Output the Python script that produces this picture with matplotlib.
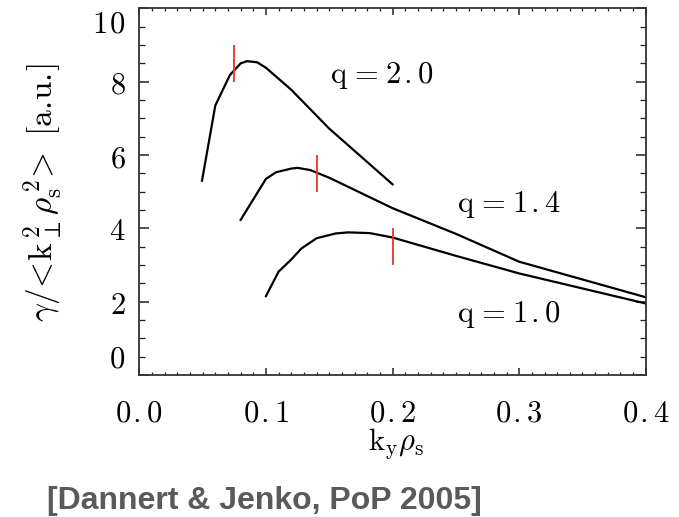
import matplotlib
matplotlib.use("Agg")
import matplotlib.pyplot as plt
from matplotlib.ticker import FixedLocator, MultipleLocator, FuncFormatter

plt.rcParams['mathtext.fontset'] = 'cm'
plt.rcParams['font.family'] = 'serif'

# growth rate curves
ky_q20 = [0.0495, 0.06, 0.0715, 0.08, 0.085, 0.093, 0.1, 0.12, 0.15, 0.2]
gam_q20 = [5.3, 7.35, 8.18, 8.5, 8.56, 8.53, 8.38, 7.78, 6.72, 5.2]

ky_q14 = [0.08, 0.1, 0.108, 0.12, 0.125, 0.135, 0.15, 0.2, 0.25, 0.3, 0.4]
gam_q14 = [4.23, 5.35, 5.53, 5.63, 5.65, 5.59, 5.38, 4.55, 3.85, 3.09, 2.12]

ky_q10 = [0.1, 0.11, 0.12, 0.128, 0.14, 0.155, 0.165, 0.182, 0.2, 0.25, 0.3, 0.4]
gam_q10 = [2.15, 2.82, 3.15, 3.45, 3.73, 3.86, 3.89, 3.87, 3.75, 3.25, 2.77, 1.95]

# red markers
mark_ky = [0.075, 0.14, 0.2]
mark_lo = [8.0, 5.0, 3.0]
mark_hi = [9.0, 6.0, 4.0]

curve_labels = ["2.0", "1.4", "1.0"]
label_pos = [(0.1506, 7.97), (0.2507, 4.45), (0.2507, 1.45)]

xticks = [0.0, 0.1, 0.2, 0.3, 0.4]
yticks = [0, 2, 4, 6, 8, 10]


def spaced(s):
    # IDL-ish wide decimal point
    return s.replace(".", r"\hspace{0.1}.")


fig = plt.figure(figsize=(6.79, 5.17), dpi=100)
ax = fig.add_axes([0.2052, 0.2747, 0.7459, 0.7091])

for k, g in [(ky_q20, gam_q20), (ky_q14, gam_q14), (ky_q10, gam_q10)]:
    ax.plot(k, g, color="black", lw=1.6, solid_joinstyle="round")
ax.vlines(mark_ky, mark_lo, mark_hi, color="#ee3322", lw=1.3)

for lab, (x, y) in zip(curve_labels, label_pos):
    ax.text(x, y, r"$\mathrm{q}\hspace{0.1}{=}\hspace{0.1}%s$" % spaced(lab),
            fontsize=22, ha="left", va="baseline")

ax.set_xlim(0, 0.4)
ax.set_ylim(0, 10)
ax.xaxis.set_major_locator(FixedLocator(xticks))
ax.xaxis.set_minor_locator(MultipleLocator(0.01))
ax.yaxis.set_major_locator(FixedLocator(yticks))
ax.yaxis.set_minor_locator(MultipleLocator(0.5))
ax.xaxis.set_major_formatter(FuncFormatter(lambda v, p: r"$%s$" % spaced("%.1f" % v)))
ax.yaxis.set_major_formatter(FuncFormatter(
    lambda v, p: r"$%s$" % r"\hspace{0.08}".join(str(int(v)))))

ax.tick_params(which="both", direction="in", top=True, right=True,
               colors="#222222", labelcolor="black", labelsize=22)
ax.tick_params(axis="x", which="major", length=5, width=1.1, pad=16)
ax.tick_params(axis="x", which="minor", length=2.5, width=0.9)
ax.tick_params(axis="y", which="major", length=7.2, width=1.1, pad=10)
ax.tick_params(axis="y", which="minor", length=4, width=0.9)
for s in ax.spines.values():
    s.set_linewidth(1.3)
    s.set_color("#333333")

# IDL-style end labels
ax.yaxis.get_major_ticks()[0].label1.set_va("bottom")
ax.yaxis.get_major_ticks()[-1].label1.set_va("top")

fig.text(43 / 679, 1 - 193 / 517,
         r"$\gamma/\!<\!\mathrm{k}_{\perp}^{\,2}\rho_{\mathrm{s}}^{\,2}\!>\ [\mathrm{a.\!u.\!}]$",
         rotation=90, ha="center", va="center", fontsize=24)
fig.text(396 / 679, 1 - 450 / 517, r"$\mathrm{k}_{\mathrm{y}}\rho_{\mathrm{s}}$",
         ha="center", va="baseline", fontsize=22)
fig.text(47 / 679, 1 - 509 / 517, "[Dannert & Jenko, PoP 2005]",
         ha="left", va="baseline", fontsize=23, fontweight="bold",
         family="Liberation Sans", color="#5a5a5a")

fig.savefig("out.png", dpi=100, facecolor="white")
